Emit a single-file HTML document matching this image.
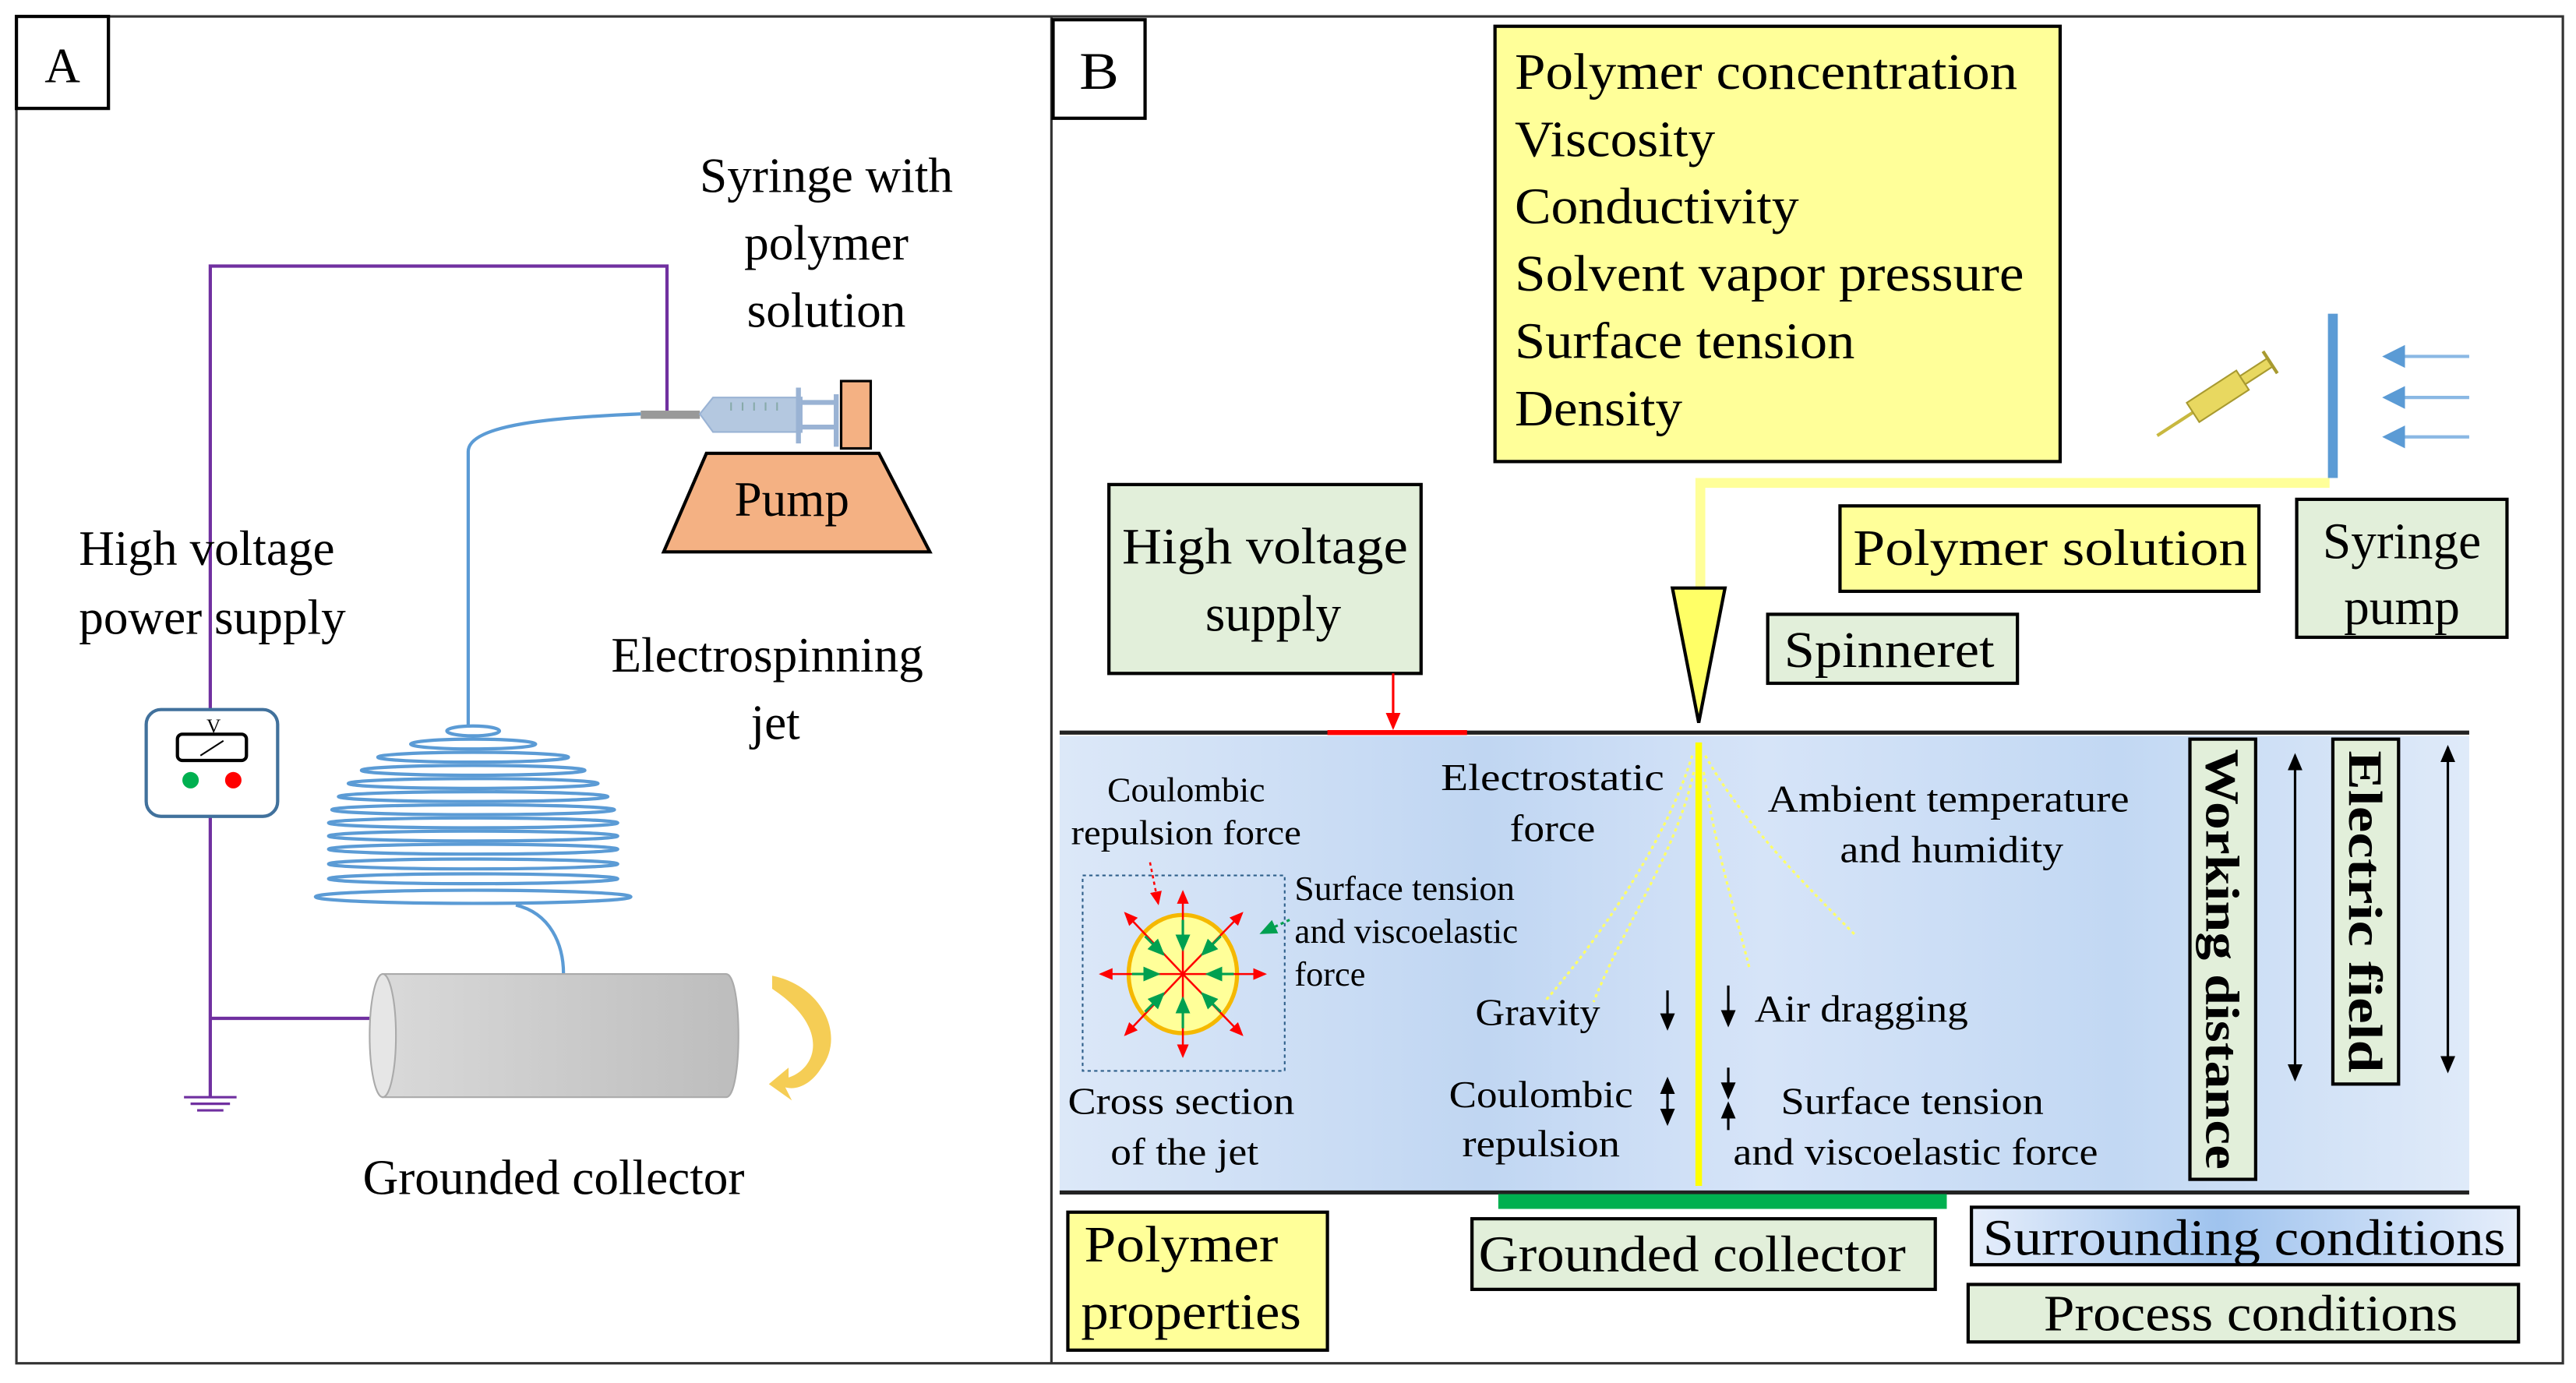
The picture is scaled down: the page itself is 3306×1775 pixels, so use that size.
<!DOCTYPE html>
<html><head><meta charset="utf-8"><style>
html,body{margin:0;padding:0;background:#fff;}
svg{display:block;}
text{font-family:"Liberation Serif",serif;fill:#000;}
</style></head><body>
<svg width="3306" height="1775" viewBox="0 0 1568 842" preserveAspectRatio="none" xmlns="http://www.w3.org/2000/svg">
<defs>
<linearGradient id="bg" x1="0" y1="0" x2="1" y2="0">
<stop offset="0" stop-color="#dce8f8"/><stop offset="0.3" stop-color="#c0d6f2"/><stop offset="0.5" stop-color="#d6e4f8"/><stop offset="0.75" stop-color="#c2d8f3"/><stop offset="1" stop-color="#dfeaf9"/></linearGradient>
<linearGradient id="cyl" x1="0" y1="0" x2="1" y2="0"><stop offset="0" stop-color="#d9d9d9"/><stop offset="1" stop-color="#bdbdbd"/></linearGradient>
<linearGradient id="sc" x1="0" y1="0" x2="1" y2="0"><stop offset="0" stop-color="#e6eefb"/><stop offset="0.45" stop-color="#9fc3ee"/><stop offset="1" stop-color="#e6eefb"/></linearGradient>
<marker id="ab" markerWidth="8" markerHeight="8" refX="6" refY="4" orient="auto"><path d="M0,1 L7,4 L0,7z" fill="#000"/></marker>
<marker id="ar" markerWidth="8" markerHeight="8" refX="6" refY="4" orient="auto"><path d="M0,1 L7,4 L0,7z" fill="#f00"/></marker>
<marker id="ag" markerWidth="8" markerHeight="8" refX="6" refY="4" orient="auto"><path d="M0,1 L7,4 L0,7z" fill="#00a050"/></marker>
<marker id="abl" markerWidth="8" markerHeight="8" refX="6" refY="4" orient="auto"><path d="M0,0.5 L7,4 L0,7.5z" fill="#5b9bd5"/></marker>
</defs>
<!-- frames -->
<rect x="10" y="10" width="1550" height="820" fill="none" stroke="#333" stroke-width="1.5"/>
<line x1="640" y1="10" x2="640" y2="830" stroke="#333" stroke-width="1.5"/>
<rect x="10" y="10" width="56" height="56" fill="#fff" stroke="#000" stroke-width="2"/>
<text x="38" y="50" font-size="30" text-anchor="middle">A</text>
<rect x="641" y="12" width="56" height="60" fill="#fff" stroke="#000" stroke-width="2"/>
<text x="669" y="54" font-size="32" text-anchor="middle" textLength="24" lengthAdjust="spacingAndGlyphs">B</text>

<!-- Panel A -->
<g stroke="#7030a0" stroke-width="2" fill="none">
<polyline points="128,432 128,162 406,162 406,250"/>
<polyline points="128,497 128,668"/>
<line x1="128" y1="620" x2="226" y2="620"/>
<line x1="112" y1="668" x2="144" y2="668" stroke-width="1.5"/>
<line x1="116" y1="672" x2="140" y2="672" stroke-width="1.5"/>
<line x1="120" y1="676" x2="136" y2="676" stroke-width="1.5"/>
</g>
<rect x="89" y="432" width="80" height="65" rx="9" fill="#fff" stroke="#41719c" stroke-width="2"/>
<rect x="108" y="447" width="42" height="16" rx="3" fill="#fff" stroke="#000" stroke-width="2"/>
<line x1="122" y1="460" x2="136" y2="451" stroke="#000" stroke-width="1"/>
<text x="130" y="446" font-size="12" text-anchor="middle">V</text>
<circle cx="116" cy="475" r="5" fill="#00b050"/><circle cx="142" cy="475" r="5" fill="#f00"/>
<text x="48" y="344" font-size="30">High voltage</text>
<text x="48" y="386" font-size="30">power supply</text>
<!-- syringe -->
<rect x="390" y="250" width="36" height="5" fill="#999"/>
<path d="M426,252 L434,242 L488,242 L488,263 L434,263 Z" fill="#b4c8e0" stroke="#9ab3d4"/>
<g stroke="#9ab3d4" stroke-width="3"><line x1="486" y1="236" x2="486" y2="270"/><line x1="488" y1="245" x2="510" y2="245"/><line x1="488" y1="260" x2="510" y2="260"/><line x1="509" y1="240" x2="509" y2="272"/></g>
<g stroke="#8aa" stroke-width="1"><line x1="445" y1="245" x2="445" y2="250"/><line x1="452" y1="245" x2="452" y2="250"/><line x1="459" y1="245" x2="459" y2="250"/><line x1="466" y1="245" x2="466" y2="250"/><line x1="473" y1="245" x2="473" y2="250"/></g>
<rect x="512" y="232" width="18" height="41" fill="#f4b183" stroke="#000" stroke-width="1.5"/>
<path d="M430,276 L535,276 L566,336 L404,336 Z" fill="#f4b183" stroke="#000" stroke-width="2"/>
<text x="482" y="314" font-size="30" text-anchor="middle">Pump</text>
<text x="503" y="117" font-size="30" text-anchor="middle">Syringe with</text>
<text x="503" y="158" font-size="30" text-anchor="middle">polymer</text>
<text x="503" y="199" font-size="30" text-anchor="middle">solution</text>
<text x="467" y="409" font-size="30" text-anchor="middle">Electrospinning</text>
<text x="472" y="450" font-size="30" text-anchor="middle">jet</text>
<!-- jet -->
<path d="M390,252 C340,254 285,258 285,275 L285,443" fill="none" stroke="#5b9bd5" stroke-width="2"/>
<g fill="none" stroke="#5b9bd5" stroke-width="2">
<ellipse cx="288" cy="445" rx="16" ry="3"/>
<ellipse cx="288" cy="453" rx="38" ry="3"/>
<ellipse cx="288" cy="461" rx="58" ry="3"/>
<ellipse cx="288" cy="469" rx="68" ry="3"/>
<ellipse cx="288" cy="477" rx="76" ry="3"/>
<ellipse cx="288" cy="485" rx="82" ry="3"/>
<ellipse cx="288" cy="493" rx="86" ry="3"/>
<ellipse cx="288" cy="501" rx="88" ry="3"/>
<ellipse cx="288" cy="509" rx="88" ry="3"/>
<ellipse cx="288" cy="517" rx="88" ry="3"/>
<ellipse cx="288" cy="526" rx="88" ry="3"/>
<ellipse cx="288" cy="535" rx="88" ry="3"/>
<ellipse cx="288" cy="546" rx="96" ry="4"/>
</g>
<path d="M314,551 C335,556 343,575 343,593" fill="none" stroke="#5b9bd5" stroke-width="2"/>
<!-- cylinder -->
<path d="M233,593 L442,593 C452,593 452,668 442,668 L233,668 Z" fill="url(#cyl)" stroke="#aaa"/>
<ellipse cx="233" cy="630.5" rx="8" ry="37.5" fill="#e6e6e6" stroke="#aaa"/>
<path d="M470,594 C500,600 515,630 500,650 C494,660 485,664 478,662 L482,670 L468,660 L480,650 L480,656 C498,650 505,625 470,602 Z" fill="#f5cd55"/>
<text x="337" y="727" font-size="30" text-anchor="middle">Grounded collector</text>

<!-- Panel B -->
<rect x="910" y="16" width="344" height="265" fill="#ffff99" stroke="#000" stroke-width="2"/>
<g font-size="31">
<text x="922" y="54" textLength="306" lengthAdjust="spacingAndGlyphs">Polymer concentration</text>
<text x="922" y="95" textLength="122" lengthAdjust="spacingAndGlyphs">Viscosity</text>
<text x="922" y="136" textLength="173" lengthAdjust="spacingAndGlyphs">Conductivity</text>
<text x="922" y="177" textLength="310" lengthAdjust="spacingAndGlyphs">Solvent vapor pressure</text>
<text x="922" y="218" textLength="207" lengthAdjust="spacingAndGlyphs">Surface tension</text>
<text x="922" y="259" textLength="102" lengthAdjust="spacingAndGlyphs">Density</text>
</g>
<!-- syringe small -->
<g transform="translate(1355,238) rotate(-33)">
<line x1="-50" y1="0" x2="-24" y2="0" stroke="#c8b840" stroke-width="2"/>
<rect x="-24" y="-7" width="36" height="14" fill="#e8d860" stroke="#a89a30"/>
<rect x="12" y="-3" width="20" height="6" fill="#e8d860" stroke="#a89a30"/>
<line x1="32" y1="-8" x2="32" y2="8" stroke="#a89a30" stroke-width="2"/>
</g>
<rect x="1417" y="191" width="6" height="100" fill="#5b9bd5"/>
<g stroke="#8ab8e4" stroke-width="2"><line x1="1503" y1="217" x2="1452" y2="217" marker-end="url(#abl)"/><line x1="1503" y1="242" x2="1452" y2="242" marker-end="url(#abl)"/><line x1="1503" y1="266" x2="1452" y2="266" marker-end="url(#abl)"/></g>
<polyline points="1418,294 1035,294 1035,358" fill="none" stroke="#ffff99" stroke-width="6"/>
<path d="M1018,358 L1050,358 L1034,440 Z" fill="#ffff66" stroke="#000" stroke-width="2"/>
<rect x="675" y="295" width="190" height="115" fill="#e2efda" stroke="#000" stroke-width="2"/>
<text x="770" y="343" font-size="31" text-anchor="middle" textLength="174" lengthAdjust="spacingAndGlyphs">High voltage</text>
<text x="775" y="384" font-size="31" text-anchor="middle">supply</text>
<rect x="1120" y="308" width="255" height="52" fill="#ffff99" stroke="#000" stroke-width="2"/>
<text x="1248" y="344" font-size="31" text-anchor="middle" textLength="240" lengthAdjust="spacingAndGlyphs">Polymer solution</text>
<rect x="1398" y="304" width="128" height="84" fill="#e2efda" stroke="#000" stroke-width="2"/>
<text x="1462" y="340" font-size="31" text-anchor="middle">Syringe</text>
<text x="1462" y="380" font-size="31" text-anchor="middle">pump</text>
<rect x="1076" y="374" width="152" height="42" fill="#e2efda" stroke="#000" stroke-width="2"/>
<text x="1150" y="406" font-size="31" text-anchor="middle" textLength="128" lengthAdjust="spacingAndGlyphs">Spinneret</text>
<line x1="848" y1="410" x2="848" y2="443" stroke="#f00" stroke-width="1.5" marker-end="url(#ar)"/>
<!-- field region -->
<rect x="645" y="448" width="858" height="278" fill="url(#bg)"/>
<line x1="645" y1="446" x2="1503" y2="446" stroke="#222" stroke-width="2.5"/>
<line x1="808" y1="446" x2="893" y2="446" stroke="#f00" stroke-width="3"/>
<line x1="645" y1="726" x2="1503" y2="726" stroke="#222" stroke-width="2.5"/>
<rect x="912" y="727" width="273" height="9" fill="#00b050"/>
<line x1="1034" y1="452" x2="1034" y2="722" stroke="#ffff00" stroke-width="4"/>
<g fill="none" stroke="#ffff66" stroke-width="1.5" stroke-dasharray="2,2">
<path d="M1031,470 C1020,520 990,560 970,610"/>
<path d="M1030,460 C1015,510 975,570 940,610"/>
<path d="M1037,470 C1045,520 1055,550 1065,590"/>
<path d="M1038,460 C1060,500 1100,540 1130,570"/>
</g>
<g font-size="21">
<text x="722" y="488" text-anchor="middle" textLength="96" lengthAdjust="spacingAndGlyphs">Coulombic</text>
<text x="722" y="514" text-anchor="middle" textLength="140" lengthAdjust="spacingAndGlyphs">repulsion force</text>
<text x="945" y="481" text-anchor="middle" textLength="136" lengthAdjust="spacingAndGlyphs" font-size="23">Electrostatic</text>
<text x="945" y="512" text-anchor="middle" font-size="23" textLength="52" lengthAdjust="spacingAndGlyphs">force</text>
<text x="1186" y="494" text-anchor="middle" font-size="23" textLength="220" lengthAdjust="spacingAndGlyphs">Ambient temperature</text>
<text x="1188" y="525" text-anchor="middle" font-size="23" textLength="136" lengthAdjust="spacingAndGlyphs">and humidity</text>
<text x="788" y="548" textLength="134" lengthAdjust="spacingAndGlyphs">Surface tension</text>
<text x="788" y="574" textLength="136" lengthAdjust="spacingAndGlyphs">and viscoelastic</text>
<text x="788" y="600">force</text>
<text x="936" y="624" text-anchor="middle" font-size="23" textLength="76" lengthAdjust="spacingAndGlyphs">Gravity</text>
<text x="1068" y="622" font-size="23" textLength="130" lengthAdjust="spacingAndGlyphs">Air dragging</text>
<text x="938" y="674" text-anchor="middle" font-size="23" textLength="112" lengthAdjust="spacingAndGlyphs">Coulombic</text>
<text x="938" y="704" text-anchor="middle" font-size="23" textLength="96" lengthAdjust="spacingAndGlyphs">repulsion</text>
<text x="1164" y="678" text-anchor="middle" font-size="23" textLength="160" lengthAdjust="spacingAndGlyphs">Surface tension</text>
<text x="1166" y="709" text-anchor="middle" font-size="23" textLength="222" lengthAdjust="spacingAndGlyphs">and viscoelastic force</text>
<text x="719" y="678" text-anchor="middle" font-size="23" textLength="138" lengthAdjust="spacingAndGlyphs">Cross section</text>
<text x="721" y="709" text-anchor="middle" font-size="23" textLength="90" lengthAdjust="spacingAndGlyphs">of the jet</text>
</g>
<g stroke="#000" stroke-width="1.5">
<line x1="1015" y1="603" x2="1015" y2="626" marker-end="url(#ab)"/>
<line x1="1052" y1="600" x2="1052" y2="624" marker-end="url(#ab)"/>
<line x1="1015" y1="670" x2="1015" y2="657" marker-end="url(#ab)"/>
<line x1="1015" y1="670" x2="1015" y2="684" marker-end="url(#ab)"/>
<line x1="1052" y1="650" x2="1052" y2="668" marker-end="url(#ab)"/>
<line x1="1052" y1="688" x2="1052" y2="672" marker-end="url(#ab)"/>
<line x1="1397" y1="550" x2="1397" y2="460" marker-end="url(#ab)"/>
<line x1="1397" y1="550" x2="1397" y2="657" marker-end="url(#ab)"/>
<line x1="1490" y1="550" x2="1490" y2="455" marker-end="url(#ab)"/>
<line x1="1490" y1="550" x2="1490" y2="652" marker-end="url(#ab)"/>
</g>
<!-- cross section -->
<rect x="659" y="533" width="123" height="119" fill="none" stroke="#2e5f8a" stroke-width="1" stroke-dasharray="2,2"/>
<ellipse cx="720" cy="593" rx="33" ry="36" fill="#ffff99" stroke="#f5b800" stroke-width="2.5"/>
<g stroke="#f00" stroke-width="1.2">
<line x1="720" y1="593" x2="720" y2="543" marker-end="url(#ar)"/>
<line x1="720" y1="593" x2="720" y2="643" marker-end="url(#ar)"/>
<line x1="720" y1="593" x2="670" y2="593" marker-end="url(#ar)"/>
<line x1="720" y1="593" x2="770" y2="593" marker-end="url(#ar)"/>
<line x1="720" y1="593" x2="685" y2="556" marker-end="url(#ar)"/>
<line x1="720" y1="593" x2="756" y2="556" marker-end="url(#ar)"/>
<line x1="720" y1="593" x2="685" y2="630" marker-end="url(#ar)"/>
<line x1="720" y1="593" x2="756" y2="630" marker-end="url(#ar)"/>
<line x1="700" y1="525" x2="705" y2="550" stroke-dasharray="2,2" marker-end="url(#ar)"/>
</g>
<g stroke="#00a050" stroke-width="1.5">
<line x1="720" y1="560" x2="720" y2="578" marker-end="url(#ag)"/>
<line x1="720" y1="626" x2="720" y2="608" marker-end="url(#ag)"/>
<line x1="689" y1="593" x2="705" y2="593" marker-end="url(#ag)"/>
<line x1="751" y1="593" x2="735" y2="593" marker-end="url(#ag)"/>
<line x1="697" y1="570" x2="708" y2="581" marker-end="url(#ag)"/>
<line x1="743" y1="570" x2="732" y2="581" marker-end="url(#ag)"/>
<line x1="697" y1="616" x2="708" y2="605" marker-end="url(#ag)"/>
<line x1="743" y1="616" x2="732" y2="605" marker-end="url(#ag)"/>
<line x1="785" y1="560" x2="768" y2="568" stroke-dasharray="2,2" marker-end="url(#ag)"/>
</g>
<!-- vertical boxes -->
<rect x="1333" y="450" width="40" height="268" fill="#e2efda" stroke="#000" stroke-width="2"/>
<text transform="translate(1343,584) rotate(90)" font-size="29" font-weight="bold" text-anchor="middle" textLength="256" lengthAdjust="spacingAndGlyphs">Working distance</text>
<rect x="1420" y="450" width="40" height="210" fill="#e2efda" stroke="#000" stroke-width="2"/>
<text transform="translate(1430,555) rotate(90)" font-size="29" font-weight="bold" text-anchor="middle" textLength="196" lengthAdjust="spacingAndGlyphs">Electric field</text>
<!-- bottom boxes -->
<rect x="650" y="738" width="158" height="84" fill="#ffff99" stroke="#000" stroke-width="2"/>
<text x="660" y="768" font-size="31" textLength="118" lengthAdjust="spacingAndGlyphs">Polymer</text>
<text x="658" y="809" font-size="31" textLength="134" lengthAdjust="spacingAndGlyphs">properties</text>
<rect x="896" y="742" width="282" height="43" fill="#e2efda" stroke="#000" stroke-width="2"/>
<text x="1030" y="774" font-size="31" text-anchor="middle" textLength="260" lengthAdjust="spacingAndGlyphs">Grounded collector</text>
<rect x="1200" y="735" width="333" height="35" fill="url(#sc)" stroke="#000" stroke-width="2"/>
<text x="1366" y="764" font-size="31" text-anchor="middle" textLength="318" lengthAdjust="spacingAndGlyphs">Surrounding conditions</text>
<rect x="1198" y="782" width="335" height="35" fill="#e2efda" stroke="#000" stroke-width="2"/>
<text x="1370" y="810" font-size="31" text-anchor="middle" textLength="252" lengthAdjust="spacingAndGlyphs">Process conditions</text>
</svg>
</body></html>
